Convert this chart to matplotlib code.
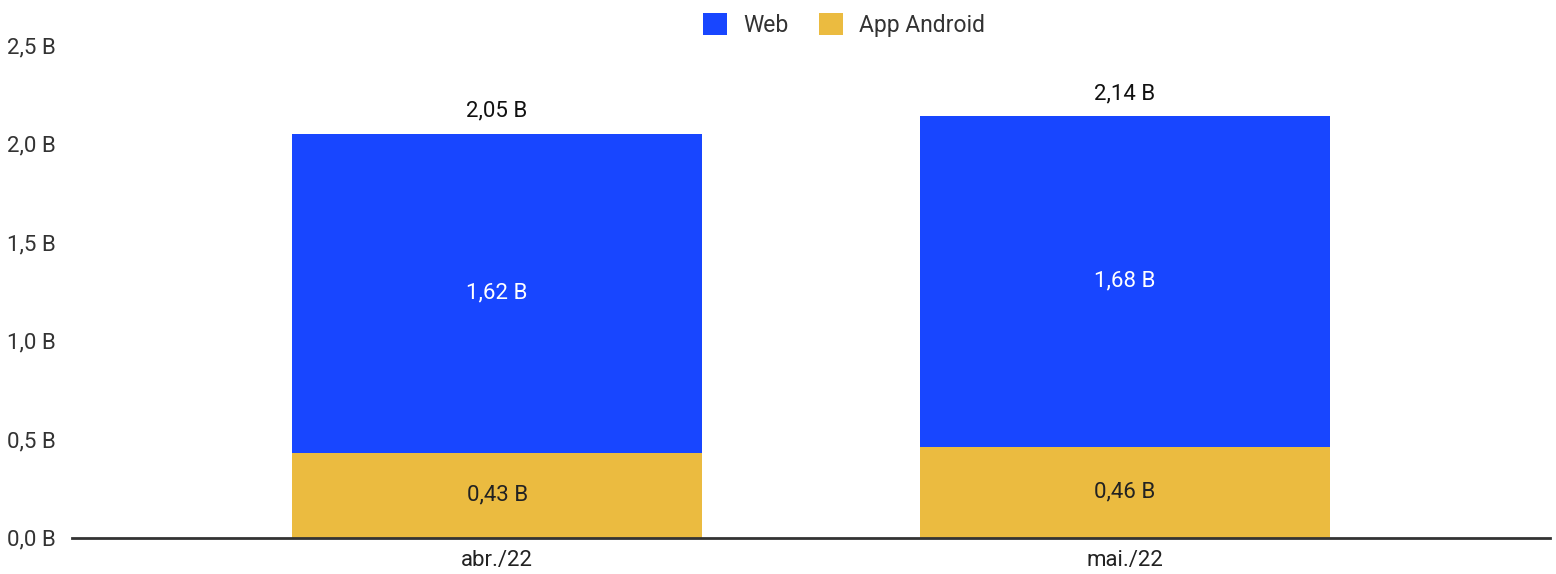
import matplotlib
matplotlib.use("Agg")
import matplotlib.pyplot as plt
from matplotlib.patches import Patch

plt.rcParams['font.family'] = ['Roboto', 'DejaVu Sans']

categories = ["abr./22", "mai./22"]
web = [1.62, 1.68]
android = [0.43, 0.46]
totals = [2.05, 2.14]
yticks = [0.0, 0.5, 1.0, 1.5, 2.0, 2.5]

c_web = "#1846FF"
c_and = "#EBBB40"

def fmt(v, d=2):
    return f"{v:.{d}f}".replace(".", ",") + " B"

fig = plt.figure(figsize=(15.56, 5.74), dpi=100)
ax = fig.add_axes([72/1556, 36.5/574, (1550-72)/1556, (537.5-45)/574])

x = list(range(len(categories)))
w = 0.653
ax.bar(x, android, width=w, color=c_and, label="App Android", zorder=2)
ax.bar(x, web, width=w, bottom=android, color=c_web, label="Web", zorder=2)

for i in x:
    ax.text(i, android[i]/2, fmt(android[i]), ha="center", va="center",
            fontsize=16, color="#222222")
    ax.text(i, android[i] + web[i]/2, fmt(web[i]), ha="center", va="center",
            fontsize=16, color="white")
    ax.text(i, totals[i] + 0.06, fmt(totals[i]), ha="center", va="bottom",
            fontsize=16, color="#111111")

ax.set_xlim(-0.677, 1.677)
ax.set_ylim(0, 2.5)
ax.set_yticks(yticks)
ax.set_yticklabels([fmt(v, 1) for v in yticks])
ax.set_xticks(x)
ax.set_xticklabels(categories)
ax.tick_params(axis="y", length=0, pad=12, labelsize=16, labelcolor="#333333")
ax.tick_params(axis="x", length=0, pad=9, labelsize=16, labelcolor="#222222")
for s in ["top", "right", "left"]:
    ax.spines[s].set_visible(False)
ax.spines["bottom"].set_color("#333333")
ax.spines["bottom"].set_linewidth(2)
ax.spines["bottom"].set_zorder(3)

handles = [Patch(facecolor=c_web, label="Web"), Patch(facecolor=c_and, label="App Android")]
fig.legend(handles=handles, loc="center", bbox_to_anchor=(844/1556, 1 - 25/574),
           ncol=2, frameon=False, fontsize=16.5, handlelength=1.05, handleheight=1.05,
           handletextpad=0.7, columnspacing=1.3, labelcolor="#333333")

fig.savefig("out.png", dpi=100)
